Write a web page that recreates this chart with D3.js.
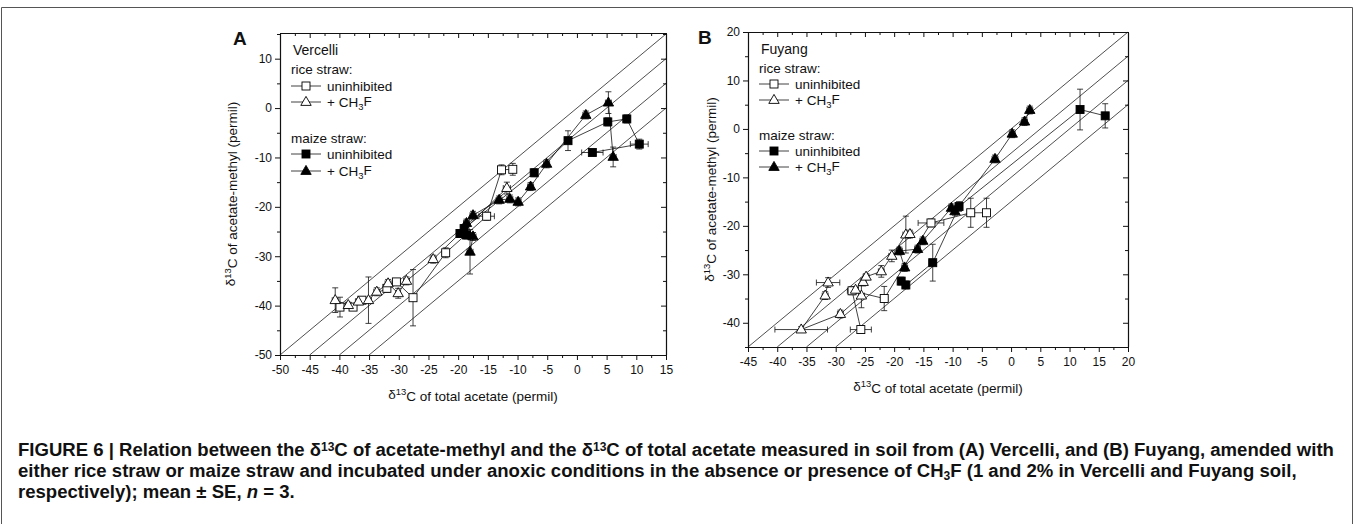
<!DOCTYPE html>
<html>
<head>
<meta charset="utf-8">
<script src="https://cdn.jsdelivr.net/npm/d3@7"></script>
<style>
  body { margin: 0; background: #fff; }
  svg { display: block; }
  text { font-family: "Liberation Sans", Arial, sans-serif; fill: #111; }
</style>
</head>
<body>
<svg id="fig" width="1354" height="525"></svg>
<script>
// each point: [x, y, xErr, yErr]  (permil)
const vercelliRiceUninhibited = [
  [-39.9, -40.3, 0.6, 2.0], [-37.7, -40.3, 0.5, 0.6], [-36.2, -38.9, 0.5, 0.6],
  [-32.0, -36.5, 0.5, 0.8], [-30.4, -35.2, 0.6, 0.6], [-27.6, -38.4, 0.5, 5.7],
  [-22.1, -29.3, 0.6, 1.0], [-15.2, -21.9, 1.3, 0.8], [-12.7, -12.5, 0.5, 1.0],
  [-10.8, -12.4, 0.5, 1.2]
];
const vercelliRiceCH3F = [
  [-40.7, -38.9, 0.5, 2.5], [-38.5, -39.9, 0.5, 0.6], [-36.8, -39.2, 0.5, 0.6],
  [-35.1, -38.9, 0.5, 4.7], [-33.7, -37.2, 0.5, 0.8], [-31.8, -35.5, 0.5, 0.8],
  [-30.1, -37.5, 0.4, 1.0], [-28.7, -35.0, 0.5, 0.8], [-24.2, -30.6, 0.5, 0.8],
  [-11.8, -16.2, 0.6, 1.2]
];
const vercelliMaizeUninhibited = [
  [-19.7, -25.4, 0.5, 0.8], [-18.6, -25.7, 0.5, 0.8], [-19.0, -24.4, 0.5, 0.8],
  [-7.2, -13.1, 0.5, 0.8], [-1.5, -6.6, 0.5, 2.0], [5.2, -2.8, 0.5, 0.8],
  [8.4, -2.2, 0.6, 0.8], [10.5, -7.3, 1.5, 1.0], [2.6, -9.0, 1.8, 0.6]
];
const vercelliMaizeCH3F = [
  [-18.0, -29.1, 0.5, 4.5], [-17.5, -26.0, 0.5, 0.8], [-18.6, -23.3, 0.5, 0.8],
  [-17.5, -21.7, 0.5, 0.8], [-13.1, -18.6, 0.5, 0.8], [-11.3, -18.4, 0.5, 0.8],
  [-9.9, -19.0, 0.5, 0.8], [-7.8, -15.9, 0.5, 0.8], [-5.1, -11.3, 0.5, 0.8],
  [1.5, -1.4, 0.5, 0.8], [5.3, 1.1, 0.5, 2.2], [6.1, -9.9, 0.5, 2.0]
];

const fuyangRiceUninhibited = [
  [-25.7, -41.4, 1.8, 0.8], [-27.2, -33.4, 0.8, 0.8], [-21.7, -35.0, 0.6, 2.5],
  [-13.7, -19.4, 2.2, 0.8], [-6.9, -17.3, 0.6, 3.0], [-4.2, -17.3, 0.5, 3.0]
];
const fuyangRiceCH3F = [
  [-31.3, -31.7, 2.0, 1.0], [-31.8, -34.4, 0.5, 0.8], [-35.9, -41.4, 4.5, 0.6],
  [-29.2, -38.2, 0.5, 0.8], [-25.6, -34.4, 0.5, 2.5], [-26.6, -33.2, 0.5, 0.6],
  [-25.3, -31.6, 0.5, 0.8], [-24.8, -30.5, 0.5, 0.6], [-22.2, -29.4, 0.5, 1.2],
  [-20.4, -26.2, 0.5, 1.2], [-18.0, -21.8, 0.5, 3.8], [-17.3, -21.7, 0.5, 0.8]
];
const fuyangMaizeUninhibited = [
  [-18.8, -31.4, 0.5, 0.8], [-18.0, -32.2, 0.5, 0.8], [-13.4, -27.6, 0.6, 3.8],
  [-8.9, -16.0, 0.5, 1.0], [11.8, 4.0, 0.5, 4.2], [16.1, 2.7, 0.5, 2.5]
];
const fuyangMaizeCH3F = [
  [-18.2, -28.6, 0.5, 0.8], [-19.1, -25.2, 0.5, 0.8], [-16.0, -24.8, 0.5, 0.8],
  [-15.1, -23.1, 0.5, 0.8], [-10.2, -16.3, 0.5, 0.8], [-9.6, -17.0, 0.5, 0.8],
  [-2.75, -6.2, 0.5, 0.8], [0.2, -1.0, 0.5, 0.8], [2.3, 1.5, 0.5, 0.8],
  [3.2, 3.9, 0.5, 0.8]
];

// reference lines y = x + offset
const diagonalOffsets = [0, -5, -10, -15];

const vercelliXTicks = [-50, -45, -40, -35, -30, -25, -20, -15, -10, -5, 0, 5, 10, 15];
const vercelliYTicks = [-50, -40, -30, -20, -10, 0, 10];
const fuyangXTicks = [-45, -40, -35, -30, -25, -20, -15, -10, -5, 0, 5, 10, 15, 20];
const fuyangYTicks = [-40, -30, -20, -10, 0, 10, 20];

const captionLines = [
  [["FIGURE 6 | Relation between the δ"], ["13", "sup"], ["C of acetate-methyl and the δ"], ["13", "sup"],
   ["C of total acetate measured in soil from (A) Vercelli, and (B) Fuyang, amended with"]],
  [["either rice straw or maize straw and incubated under anoxic conditions in the absence or presence of CH"], ["3", "sub"],
   ["F (1 and 2% in Vercelli and Fuyang soil,"]],
  [["respectively); mean ± SE, "], ["n", "it"], [" = 3."]]
];

const svg = d3.select('#fig');

// figure frame
svg.append('path')
  .attr('d', 'M1.5,524 V7.5 H1352.5 V524')
  .attr('fill', 'none').attr('stroke', '#555').attr('stroke-width', 1);

function symbol(sel, type, filled) {
  if (type === 'square') {
    sel.append('rect').attr('x', -4).attr('y', -4).attr('width', 8).attr('height', 8)
      .attr('fill', filled ? '#000' : '#fff').attr('stroke', '#000').attr('stroke-width', 0.9);
  } else {
    sel.append('path').attr('d', 'M0,-5.6L5.2,3.4L-5.2,3.4Z')
      .attr('fill', filled ? '#000' : '#fff').attr('stroke', '#000').attr('stroke-width', 0.9);
  }
}

function deltaLabel(t, rest) {
  t.append('tspan').text('δ');
  t.append('tspan').text('13').attr('font-size', '0.7em').attr('dy', '-0.45em');
  t.append('tspan').text(rest).attr('dy', '0.45em');
}

function drawPanel(p) {
  const x = d3.scaleLinear().domain(p.xDomain).range([p.left, p.right]);
  const y = d3.scaleLinear().domain(p.yDomain).range([p.bottom, p.top]);
  const g = svg.append('g');

  // diagonal lines
  diagonalOffsets.forEach(c => {
    const x0 = Math.max(p.xDomain[0], p.yDomain[0] - c);
    const x1 = Math.min(p.xDomain[1], p.yDomain[1] - c);
    g.append('line')
      .attr('x1', x(x0)).attr('y1', y(x0 + c))
      .attr('x2', x(x1)).attr('y2', y(x1 + c))
      .attr('stroke', '#222').attr('stroke-width', 0.8);
  });

  const xMinor = d3.range(p.xDomain[0], p.xDomain[1] + 0.01, 2.5).filter(v => p.xTicks.indexOf(v) < 0);
  const yMinor = d3.range(p.yTicks[0] - 10, p.yDomain[1] + 0.01, 5).filter(v => v >= p.yDomain[0] && p.yTicks.indexOf(v) < 0);
  const fmt = d => String(d);

  // bottom
  g.append('g').attr('transform', `translate(0,${p.bottom})`)
    .call(d3.axisBottom(x).tickValues(p.xTicks).tickSize(5).tickSizeOuter(0).tickPadding(5).tickFormat(fmt));
  g.append('g').attr('transform', `translate(0,${p.bottom})`)
    .call(d3.axisBottom(x).tickValues(xMinor).tickSize(3).tickSizeOuter(0).tickFormat(''));
  // top (ticks inward)
  g.append('g').attr('transform', `translate(0,${p.top})`)
    .call(d3.axisBottom(x).tickValues(p.xTicks).tickSize(5).tickSizeOuter(0).tickFormat(''));
  g.append('g').attr('transform', `translate(0,${p.top})`)
    .call(d3.axisBottom(x).tickValues(xMinor).tickSize(3).tickSizeOuter(0).tickFormat(''));
  // left
  g.append('g').attr('transform', `translate(${p.left},0)`)
    .call(d3.axisLeft(y).tickValues(p.yTicks).tickSize(5).tickSizeOuter(0).tickPadding(3).tickFormat(fmt));
  g.append('g').attr('transform', `translate(${p.left},0)`)
    .call(d3.axisLeft(y).tickValues(yMinor).tickSize(3).tickSizeOuter(0).tickFormat(''));
  // right (ticks inward)
  g.append('g').attr('transform', `translate(${p.right},0)`)
    .call(d3.axisLeft(y).tickValues(p.yTicks).tickSize(5).tickSizeOuter(0).tickFormat(''));
  g.append('g').attr('transform', `translate(${p.right},0)`)
    .call(d3.axisLeft(y).tickValues(yMinor).tickSize(3).tickSizeOuter(0).tickFormat(''));

  g.selectAll('.domain').attr('stroke', '#111').attr('stroke-width', 1.1);
  g.selectAll('.tick line').attr('stroke', '#111');
  g.selectAll('.tick text').attr('font-size', 12).attr('fill', '#111')
    .attr('font-family', '"Liberation Sans", Arial, sans-serif');

  // axis titles
  const xt = g.append('text').attr('x', (p.left + p.right) / 2).attr('y', p.bottom + 44)
    .attr('text-anchor', 'middle').attr('font-size', 13.5);
  deltaLabel(xt, 'C of total acetate (permil)');
  const yt = g.append('text').attr('text-anchor', 'middle').attr('font-size', 13.5)
    .attr('transform', `translate(${p.left - p.yTitleGap},${(p.top + p.bottom) / 2}) rotate(-90)`);
  deltaLabel(yt, 'C of acetate-methyl (permil)');

  g.append('text').attr('x', p.letterX).attr('y', p.top + 12)
    .attr('font-size', 19).attr('font-weight', 'bold').text(p.letter);

  // connecting lines
  const line = d3.line().x(d => x(d[0])).y(d => y(d[1]));
  p.series.forEach(s => {
    g.append('path').datum(s.data).attr('d', line)
      .attr('fill', 'none').attr('stroke', '#111').attr('stroke-width', 0.8);
  });
  // error bars
  p.series.forEach(s => {
    s.data.forEach(d => {
      const cx = x(d[0]), cy = y(d[1]);
      const eb = g.append('g').attr('stroke', '#111').attr('stroke-width', 0.8);
      const ya = y(d[1] + d[3]), yb = y(d[1] - d[3]);
      eb.append('line').attr('x1', cx).attr('x2', cx).attr('y1', ya).attr('y2', yb);
      eb.append('line').attr('x1', cx - 3).attr('x2', cx + 3).attr('y1', ya).attr('y2', ya);
      eb.append('line').attr('x1', cx - 3).attr('x2', cx + 3).attr('y1', yb).attr('y2', yb);
      const xa = x(d[0] - d[2]), xb = x(d[0] + d[2]);
      eb.append('line').attr('x1', xa).attr('x2', xb).attr('y1', cy).attr('y2', cy);
      eb.append('line').attr('x1', xa).attr('x2', xa).attr('y1', cy - 3).attr('y2', cy + 3);
      eb.append('line').attr('x1', xb).attr('x2', xb).attr('y1', cy - 3).attr('y2', cy + 3);
    });
  });
  // markers
  p.series.forEach(s => {
    s.data.forEach(d => {
      const m = g.append('g').attr('transform', `translate(${x(d[0])},${y(d[1])})`);
      symbol(m, s.shape, s.filled);
    });
  });

  // legend
  const lg = g.append('g');
  const lx = p.left + 11;
  const L = p.legendRows;
  lg.append('text').attr('x', lx + 2).attr('y', p.top + 22).attr('font-size', 14).text(p.site);
  lg.append('text').attr('x', lx).attr('y', p.top + 41).attr('font-size', 13.5).text('rice straw:');
  lg.append('text').attr('x', lx).attr('y', p.top + L[4]).attr('font-size', 13.5).text('maize straw:');
  L.slice(0, 4).forEach((off, i) => {
    const ry = p.top + off;
    const s = p.series[i];
    lg.append('line').attr('x1', lx).attr('x2', lx + 30).attr('y1', ry).attr('y2', ry)
      .attr('stroke', '#111').attr('stroke-width', 0.8);
    symbol(lg.append('g').attr('transform', `translate(${lx + 15},${ry})`), s.shape, s.filled);
    const t = lg.append('text').attr('x', lx + 36).attr('y', ry + 5).attr('font-size', 13.5);
    if (s.label === 'ch3f') {
      t.append('tspan').text('+ CH');
      t.append('tspan').text('3').attr('font-size', '0.7em').attr('dy', '0.35em');
      t.append('tspan').text('F').attr('dy', '-0.35em');
    } else {
      t.text('uninhibited');
    }
  });
}

drawPanel({
  letter: 'A', letterX: 233, site: 'Vercelli', yTitleGap: 45,
  left: 280, right: 666, top: 33, bottom: 355,
  xDomain: [-50, 15], yDomain: [-50, 15.2],
  xTicks: vercelliXTicks, yTicks: vercelliYTicks,
  legendRows: [53, 69, 121, 138, 110],
  series: [
    { data: vercelliRiceUninhibited, shape: 'square', filled: false, label: 'un' },
    { data: vercelliRiceCH3F, shape: 'triangle', filled: false, label: 'ch3f' },
    { data: vercelliMaizeUninhibited, shape: 'square', filled: true, label: 'un' },
    { data: vercelliMaizeCH3F, shape: 'triangle', filled: true, label: 'ch3f' }
  ]
});

drawPanel({
  letter: 'B', letterX: 698, site: 'Fuyang', yTitleGap: 34,
  left: 748, right: 1128, top: 32, bottom: 347,
  xDomain: [-45, 20], yDomain: [-45, 20],
  xTicks: fuyangXTicks, yTicks: fuyangYTicks,
  legendRows: [52, 68, 119, 135, 108],
  series: [
    { data: fuyangRiceUninhibited, shape: 'square', filled: false, label: 'un' },
    { data: fuyangRiceCH3F, shape: 'triangle', filled: false, label: 'ch3f' },
    { data: fuyangMaizeUninhibited, shape: 'square', filled: true, label: 'un' },
    { data: fuyangMaizeCH3F, shape: 'triangle', filled: true, label: 'ch3f' }
  ]
});

// caption
const cap = svg.append('g').attr('font-weight', 'bold');
const capTexts = captionLines.map((parts, i) => {
  const t = cap.append('text').attr('x', 18).attr('y', 456 + i * 21).attr('font-size', 16);
  parts.forEach(([s, kind]) => {
    const ts = t.append('tspan').text(s);
    if (kind === 'sup') ts.attr('font-size', '0.65em').attr('baseline-shift', '40%');
    if (kind === 'sub') ts.attr('font-size', '0.65em').attr('baseline-shift', '-25%');
    if (kind === 'it') ts.attr('font-style', 'italic');
  });
  return t;
});
// fit the first line to the width seen in the figure
const w0 = capTexts[0].node().getComputedTextLength();
const fs = 16 * 1317 / w0;
capTexts.forEach(t => t.attr('font-size', fs));
</script>
</body>
</html>
